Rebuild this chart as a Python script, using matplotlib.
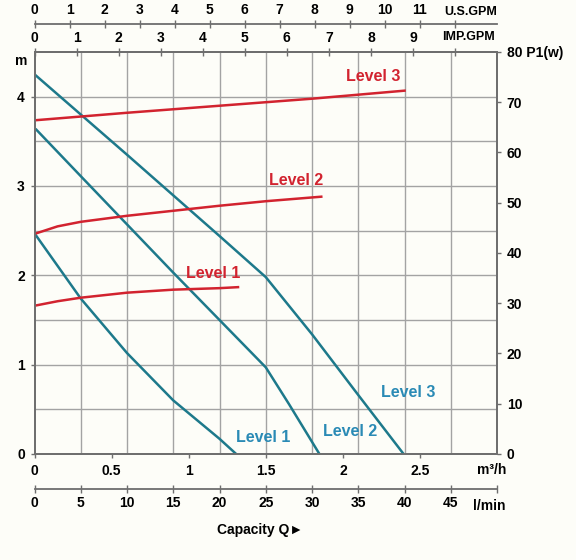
"""Pump performance chart: head and power input vs capacity."""
import matplotlib.pyplot as plt
import numpy as np

plt.rcParams["font.family"] = ["Liberation Sans", "DejaVu Sans"]
plt.rcParams["font.weight"] = "bold"
plt.rcParams["font.size"] = 10

# head curves (capacity in l/min, head in m)
head_l1_q = [0, 5, 10, 15, 20, 21.8]
head_l1_h = [2.47, 1.74, 1.13, 0.60, 0.17, 0]
head_l2_q = [0.2, 5, 10, 15, 20, 25, 27.5, 30.8]
head_l2_h = [3.63, 3.11, 2.57, 2.03, 1.50, 0.97, 0.56, 0]
head_l3_q = [0, 10, 20, 25, 30, 35, 39.9]
head_l3_h = [4.25, 3.35, 2.44, 1.98, 1.34, 0.66, 0]

# power input curves (capacity in l/min, P1 in W)
power_l1_q = [0, 2.5, 5, 10, 15, 20, 22]
power_l1_p = [29.5, 30.4, 31.1, 32.1, 32.7, 33.0, 33.2]
power_l2_q = [0, 2.5, 5, 10, 15, 20, 25, 31]
power_l2_p = [43.8, 45.3, 46.2, 47.4, 48.4, 49.4, 50.3, 51.2]
power_l3_q = [0, 10, 20, 30, 40]
power_l3_p = [66.4, 67.9, 69.3, 70.7, 72.3]

m3h_ticks = [0, 0.5, 1, 1.5, 2, 2.5]
lmin_ticks = list(range(0, 55, 5))
usgpm_ticks = list(range(0, 13))
impgpm_ticks = list(range(0, 11))
head_ticks = [0, 1, 2, 3, 4]
power_ticks = list(range(0, 90, 10))

BLUE = "#1d798b"
BLUE_TXT = "#2a8ab5"
RED = "#d2232f"
GRID = "#a3a3a3"
AXIS = "#6e6e6e"

fig = plt.figure(figsize=(5.76, 5.6), dpi=100, facecolor="#fdfdf8")
ax = fig.add_axes([0.0599, 0.1893, 0.803, 0.7179])
ax.set_facecolor("#fdfdf8")
ax.set_xlim(0, 50)
ax.set_ylim(0, 4.5)

for q in lmin_ticks[1:-1]:
    ax.axvline(q, color=GRID, lw=1.0, zorder=0)
for h in np.arange(0.5, 4.5, 0.5):
    ax.axhline(h, color=GRID, lw=1.0, zorder=0)

for s in ax.spines.values():
    s.set_color(AXIS)
    s.set_linewidth(1.3)

ax.plot(head_l1_q, head_l1_h, color=BLUE, lw=1.8, zorder=3)
ax.plot(head_l2_q, head_l2_h, color=BLUE, lw=1.8, zorder=3)
ax.plot(head_l3_q, head_l3_h, color=BLUE, lw=1.8, zorder=3)

ax.set_xticks([m * 1000 / 60 for m in m3h_ticks], [f"{m:g}" for m in m3h_ticks])
ax.set_yticks(head_ticks)
ax.tick_params(axis="both", direction="out", length=3, width=1, color=AXIS, pad=4)
ax.tick_params(axis="x", pad=4.5)

# power axis on the right
ax2 = ax.twinx()
ax2.set_ylim(0, 80)
ax2.plot(power_l1_q, power_l1_p, color=RED, lw=1.8, zorder=2)
ax2.plot(power_l2_q, power_l2_p, color=RED, lw=1.8, zorder=2)
ax2.plot(power_l3_q, power_l3_p, color=RED, lw=1.8, zorder=2)
ax2.set_yticks(power_ticks, [str(p) for p in power_ticks[:-1]] + ["80 P1(w)"])
ax2.tick_params(axis="y", direction="out", length=3, width=1, color=AXIS, pad=4)
for s in ax2.spines.values():
    s.set_color(AXIS)
    s.set_linewidth(1.3)

# extra capacity scales
lmin = ax.secondary_xaxis(-0.087, functions=(lambda q: q, lambda q: q))
lmin.set_xticks(lmin_ticks, [str(q) for q in lmin_ticks[:-1]] + [""])

imp = ax.secondary_xaxis("top", functions=(lambda q: q / 4.54609, lambda g: g * 4.54609))
imp.set_xticks(impgpm_ticks, [str(g) for g in impgpm_ticks[:-1]] + [""])

us = ax.secondary_xaxis(1.07, functions=(lambda q: q / 3.785412, lambda g: g * 3.785412))
us.set_xticks(usgpm_ticks, [str(g) for g in usgpm_ticks[:-1]] + [""])

for sec in (lmin, imp, us):
    for s in sec.spines.values():
        s.set_color(AXIS)
        s.set_linewidth(1.3)
    sec.tick_params(direction="inout", length=6, width=1, color=AXIS, pad=2)

tr = ax.get_xaxis_transform()
ax.text(50, 1.100, "U.S.GPM", transform=tr, ha="right", va="center", fontsize=9)
ax.text(49.8, 1.036, "IMP.GPM", transform=tr, ha="right", va="center", fontsize=9)
ax.text(49.4, -0.04, "m³/h", transform=tr, ha="center", va="center")
ax.text(49.2, -0.129, "l/min", transform=tr, ha="center", va="center")
ax.text(24.4, -0.19, "Capacity Q►", transform=tr, ha="center", va="center")
ax.text(-1.4, 4.40, "m", ha="center", va="center", fontsize=10, clip_on=False)

# curve labels
ax.text(36.6, 4.22, "Level 3", color=RED, fontsize=11.5, ha="center", va="center")
ax.text(28.3, 3.06, "Level 2", color=RED, fontsize=11.5, ha="center", va="center")
ax.text(19.3, 2.02, "Level 1", color=RED, fontsize=11.5, ha="center", va="center")
ax.text(24.7, 0.19, "Level 1", color=BLUE_TXT, fontsize=11.5, ha="center", va="center")
ax.text(34.1, 0.25, "Level 2", color=BLUE_TXT, fontsize=11.5, ha="center", va="center")
ax.text(40.4, 0.69, "Level 3", color=BLUE_TXT, fontsize=11.5, ha="center", va="center")

fig.savefig("out.png", dpi=100, facecolor=fig.get_facecolor())
